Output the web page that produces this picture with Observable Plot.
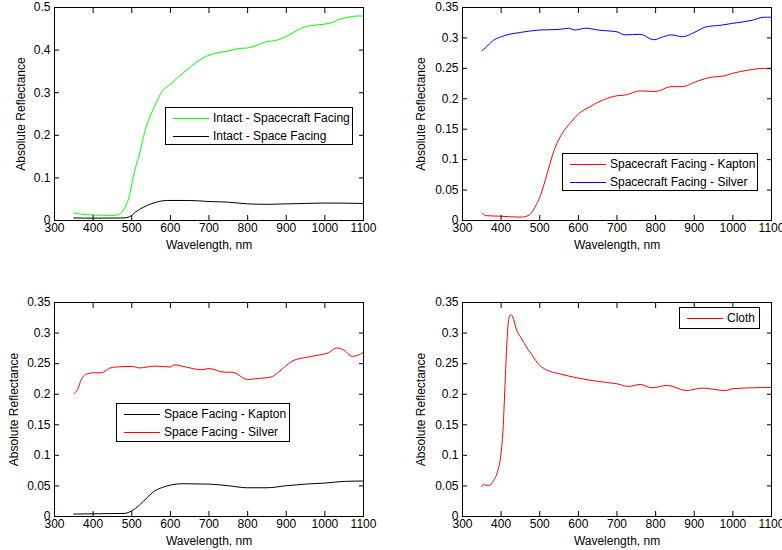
<!DOCTYPE html>
<html><head><meta charset="utf-8">
<script src="https://cdn.jsdelivr.net/npm/d3@7"></script>
<script src="https://cdn.jsdelivr.net/npm/@observablehq/plot@0.6"></script>
<style>
body{margin:0;background:#fff;}
#wrap{position:relative;width:782px;height:550px;overflow:hidden;font-family:"Liberation Sans",Arial,sans-serif;background:#fff;}
.panel{position:absolute;width:391px;height:275px;}
.legend{position:absolute;border:1px solid #000;background:#fff;font-size:12px;box-sizing:border-box;padding:1px 0 0 7px;color:#000;}
.row{height:18px;display:flex;align-items:center;white-space:nowrap;}
.sw{display:inline-block;width:36px;height:0;border-top:1px solid;margin-right:4px;}
</style></head><body><div id="wrap"></div>
<script>
// ---- data ----
const xTicks = [300, 400, 500, 600, 700, 800, 900, 1000, 1100];
const yTicksA = [0, 0.1, 0.2, 0.3, 0.4, 0.5];
const yTicksB = [0, 0.05, 0.1, 0.15, 0.2, 0.25, 0.3, 0.35];

// Panel 1
const intactSCWl = [350,370,400,450,465,475,485,495,500,510,520,530,540,550,560,580,600,620,650,680,700,750,780,800,820,850,870,900,930,950,980,1000,1020,1040,1060,1080,1100];
const intactSCVal = [0.018,0.015,0.013,0.012,0.013,0.02,0.035,0.062,0.086,0.125,0.156,0.195,0.227,0.25,0.27,0.305,0.32,0.336,0.359,0.379,0.388,0.398,0.404,0.405,0.41,0.42,0.422,0.432,0.447,0.455,0.459,0.461,0.465,0.473,0.477,0.48,0.48];
const intactSWl = [350,400,480,495,510,530,550,570,590,650,700,750,800,850,900,950,1000,1100];
const intactSVal = [0.006,0.0055,0.006,0.009,0.02,0.031,0.039,0.0445,0.047,0.047,0.0445,0.043,0.039,0.038,0.039,0.04,0.041,0.04];

// Panel 2
const scKaptonWl = [350,360,400,450,470,480,490,500,510,520,530,540,560,580,600,630,650,700,720,760,800,840,870,900,940,980,1000,1040,1080,1100];
const scKaptonVal = [0.0126,0.008,0.007,0.0055,0.008,0.0137,0.025,0.038,0.057,0.079,0.101,0.12,0.145,0.161,0.175,0.187,0.194,0.205,0.206,0.213,0.212,0.22,0.22,0.227,0.235,0.238,0.242,0.247,0.25,0.249];
const scSilverWl = [350,360,380,400,450,500,550,575,590,620,650,700,720,760,795,820,840,870,900,930,970,1000,1050,1080,1100];
const scSilverVal = [0.279,0.284,0.296,0.302,0.309,0.313,0.314,0.316,0.313,0.316,0.313,0.31,0.305,0.306,0.297,0.302,0.305,0.302,0.309,0.318,0.321,0.324,0.329,0.334,0.334];

// Panel 3
const sKaptonWl = [350,400,480,500,520,540,560,580,600,630,700,750,800,850,900,950,1000,1050,1100];
const sKaptonVal = [0.004,0.0044,0.005,0.0093,0.0186,0.031,0.042,0.0476,0.0514,0.0536,0.053,0.0503,0.047,0.047,0.0503,0.053,0.0547,0.0574,0.058];
const sSilverWl = [350,360,370,380,400,420,450,500,520,560,600,610,640,680,700,740,760,800,820,860,880,900,920,950,980,1010,1030,1050,1070,1085,1100];
const sSilverVal = [0.2007,0.208,0.225,0.232,0.235,0.235,0.244,0.2455,0.243,0.246,0.2445,0.248,0.2445,0.24,0.242,0.236,0.236,0.224,0.2253,0.228,0.236,0.247,0.2555,0.26,0.2636,0.268,0.2756,0.272,0.262,0.2636,0.269];

// Panel 4
const clothWl = [350,355,360,370,380,390,400,405,410,415,420,425,430,440,450,460,480,500,520,550,600,650,700,730,760,790,830,880,920,980,1000,1050,1100];
const clothVal = [0.049,0.053,0.051,0.051,0.0585,0.072,0.105,0.143,0.214,0.285,0.324,0.33,0.3265,0.305,0.294,0.283,0.264,0.247,0.239,0.2335,0.2264,0.221,0.217,0.2127,0.216,0.2105,0.2144,0.206,0.21,0.206,0.209,0.2105,0.211];

const FONT = '"Liberation Sans", Arial, sans-serif';
const wrap = document.getElementById("wrap");

function panel(cfg) {
  const marks = cfg.series.map(s => Plot.line(s.wl.map((w, i) => ({w, v: s.val[i]})), {
    x: "w", y: "v", stroke: s.color, strokeWidth: 1, curve: "monotone-x"
  }));
  const fmt = d => String(d);
  marks.push(
    Plot.frame({stroke: "black", strokeWidth: 1}),
    Plot.axisX({anchor: "bottom", ticks: xTicks, tickSize: 0, tickPadding: 3, tickFormat: fmt,
      label: "Wavelength, nm", labelAnchor: "center", labelArrow: "none", labelOffset: cfg.xLabOff}),
    Plot.axisX({anchor: "bottom", ticks: xTicks, tickSize: -5, tickFormat: () => "", label: null}),
    Plot.axisX({anchor: "top", ticks: xTicks, tickSize: -5, tickFormat: () => "", label: null}),
    Plot.axisY({anchor: "left", ticks: cfg.yTicks, tickSize: 0, tickPadding: 4, tickFormat: fmt,
      label: "Absolute Reflectance", labelAnchor: "center", labelArrow: "none", labelOffset: cfg.yLabOff}),
    Plot.axisY({anchor: "left", ticks: cfg.yTicks, tickSize: -5, tickFormat: () => "", label: null}),
    Plot.axisY({anchor: "right", ticks: cfg.yTicks, tickSize: -5, tickFormat: () => "", label: null})
  );
  const chart = Plot.plot({
    width: 391, height: 275,
    marginLeft: cfg.mL, marginRight: cfg.mR, marginTop: cfg.mT, marginBottom: cfg.mB,
    style: {fontFamily: FONT, fontSize: "12px", background: "white", color: "black", overflow: "visible"},
    x: {domain: [300, 1100]},
    y: {domain: cfg.yDomain},
    marks
  });
  const div = document.createElement("div");
  div.className = "panel";
  div.style.left = cfg.left + "px";
  div.style.top = cfg.top + "px";
  div.appendChild(chart);
  wrap.appendChild(div);

  const lg = document.createElement("div");
  lg.className = "legend";
  Object.assign(lg.style, {left: cfg.legend.x + "px", top: cfg.legend.y + "px", width: cfg.legend.w + "px", height: cfg.legend.h + "px"});
  for (const s of cfg.legend.order) {
    const row = document.createElement("div");
    row.className = "row";
    const sw = document.createElement("span");
    sw.className = "sw";
    sw.style.borderTopColor = s.color;
    row.appendChild(sw);
    row.appendChild(document.createTextNode(s.name));
    lg.appendChild(row);
  }
  wrap.appendChild(lg);
}

const g1 = {name: "Intact - Spacecraft Facing", color: "#00ff00", wl: intactSCWl, val: intactSCVal};
const k1 = {name: "Intact - Space Facing", color: "#000000", wl: intactSWl, val: intactSVal};
panel({left: 0, top: 0, mL: 54, mR: 28, mT: 7, mB: 55, yDomain: [0, 0.5], yTicks: yTicksA,
  xLabOff: 28, yLabOff: 38, series: [g1, k1],
  legend: {x: 165, y: 107, w: 188, h: 38, order: [g1, k1]}});

const r2 = {name: "Spacecraft Facing - Kapton", color: "#ff0000", wl: scKaptonWl, val: scKaptonVal};
const b2 = {name: "Spacecraft Facing - Silver", color: "#0000ff", wl: scSilverWl, val: scSilverVal};
panel({left: 391, top: 0, mL: 71, mR: 11, mT: 7, mB: 55, yDomain: [0, 0.35], yTicks: yTicksB,
  xLabOff: 28, yLabOff: 46, series: [r2, b2],
  legend: {x: 562, y: 153, w: 196, h: 38, order: [r2, b2]}});

const k3 = {name: "Space Facing - Kapton", color: "#000000", wl: sKaptonWl, val: sKaptonVal};
const r3 = {name: "Space Facing - Silver", color: "#ff0000", wl: sSilverWl, val: sSilverVal};
panel({left: 0, top: 275, mL: 54, mR: 28, mT: 27, mB: 34, yDomain: [0, 0.35], yTicks: yTicksB,
  xLabOff: 28, yLabOff: 45, series: [k3, r3],
  legend: {x: 116, y: 403, w: 174, h: 39, order: [k3, r3]}});

const c4 = {name: "Cloth", color: "#ff0000", wl: clothWl, val: clothVal};
panel({left: 391, top: 275, mL: 71, mR: 11, mT: 27, mB: 34, yDomain: [0, 0.35], yTicks: yTicksB,
  xLabOff: 28, yLabOff: 46, series: [c4],
  legend: {x: 679, y: 307, w: 81, h: 22, order: [c4]}});
</script></body></html>
